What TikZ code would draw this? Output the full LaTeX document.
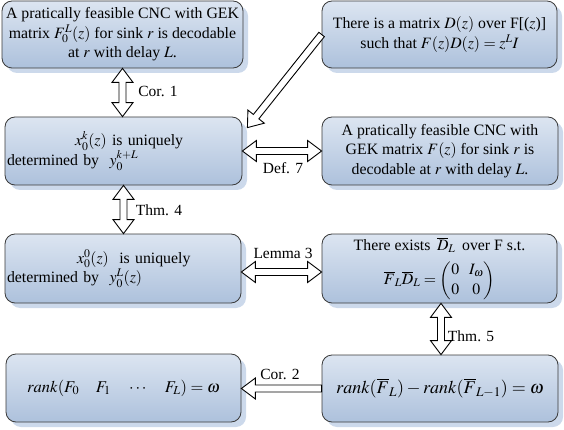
\documentclass[tikz,border=0pt]{standalone}
\usepackage{amsmath}
\usepackage{mathptmx}
\usepackage{fontspec}
\setmainfont{Liberation Serif}
\usetikzlibrary{calc,shadows}
\definecolor{boxtop}{HTML}{DCE5F1}
\definecolor{boxbot}{HTML}{ADC1DC}
\definecolor{shadowc}{HTML}{CCD9EB}
\definecolor{edgec}{HTML}{3A3A3A}
\newcommand\hollowsingle[2]{%
 \path (#1) coordinate (hs) (#2) coordinate (he);
 \path ($(he)!14pt!(hs)$) coordinate (hb);
 \draw[harrow] ($(hs)!3.5pt!90:(he)$) -- ($(hb)!3.5pt!90:(he)$) -- ($(hb)!10.5pt!90:(he)$) -- (he)
   -- ($(hb)!10.5pt!-90:(he)$) -- ($(hb)!3.5pt!-90:(he)$) -- ($(hs)!3.5pt!-90:(he)$) -- cycle;}
\newcommand\hollowdouble[2]{%
 \path (#1) coordinate (hs) (#2) coordinate (he);
 \path ($(hs)!14pt!(he)$) coordinate (hba) ($(he)!14pt!(hs)$) coordinate (hbb);
 \draw[harrow] ($(hba)!3.5pt!90:(he)$) -- ($(hbb)!3.5pt!90:(he)$) -- ($(hbb)!10.5pt!90:(he)$) -- (he)
   -- ($(hbb)!10.5pt!-90:(he)$) -- ($(hbb)!3.5pt!-90:(he)$) -- ($(hba)!3.5pt!-90:(he)$)
   -- ($(hba)!10.5pt!-90:(he)$) -- (hs) -- ($(hba)!10.5pt!90:(he)$) -- cycle;}
\begin{document}
\begin{tikzpicture}[x=1pt,y=-1pt,
  box/.style={draw=edgec, line width=0.8pt, rounded corners=10pt, top color=boxtop, bottom color=boxbot,
    drop shadow={shadow xshift=5pt, shadow yshift=-5pt, fill=shadowc, opacity=1},
    inner sep=2pt, align=center, font=\fontsize{15.8}{19.5}\selectfont},
  harrow/.style={draw=black, line width=0.9pt, fill=white, line join=miter},
  lbl/.style={font=\fontsize{15.5}{18}\selectfont, inner sep=1pt}]
\useasboundingbox (0,0) rectangle (564,430);
\node[box, minimum width=241pt, minimum height=67pt] (A) at (122.5,34.5)
  {A pratically feasible CNC with GEK\\ matrix $F_0^L(z)$ for sink $r$ is decodable\\ at $r$ with delay $L$.};
\node[box, minimum width=235pt, minimum height=67pt] (B) at (439.5,34.5)
  {There is a matrix $D(z)$ over F[($z$)]\\ such that $F(z)D(z)=z^LI$};
\node[box, minimum width=237pt, minimum height=68pt, align=left, text width=233pt] (C) at (123.5,151)
  {\hspace*{68pt}$x_0^k(z)$ is uniquely\\determined by\ \ $y_0^{k+L}$};
\node[box, minimum width=236pt, minimum height=68pt] (D) at (440,151)
  {A pratically feasible CNC with\\ GEK matrix $F(z)$ for sink $r$ is\\ decodable at $r$ with delay $L$.};
\node[box, minimum width=236pt, minimum height=69pt, align=left, text width=232pt] (E) at (123,268.5)
  {\hspace*{70pt}$x_0^0(z)$\ \ is uniquely\\determined by\ \ $y_0^L(z)$};
\node[box, minimum width=235pt, minimum height=69pt] (F) at (439.5,268.5)
  {There exists\ \,$\overline{D}_L$\ \,over F s.t.\\[7pt] $\overline{F}_L\overline{D}_L=\begin{pmatrix}0 & I_\omega\\ 0 & 0\end{pmatrix}$};
\node[box, minimum width=235pt, minimum height=68pt, font=\fontsize{16.5}{19.5}\selectfont] (G) at (123.5,388)
  {$rank(F_0\quad F_1\quad \cdots\quad F_L)=\omega$};
\node[box, minimum width=236pt, minimum height=67pt, font=\fontsize{18}{21}\selectfont] (H) at (440,388.5)
  {$rank(\overline{F}_L)-rank(\overline{F}_{L-1})=\omega$};
\hollowdouble{A.south}{A.south |- C.north}
\hollowdouble{C.south}{C.south |- E.north}
\hollowdouble{C.east}{C.east -| D.west}
\hollowdouble{$(E.east)+(0,3.5)$}{$(E.east -| F.west)+(0,3.5)$}
\hollowdouble{$(F.south)+(1.5,0)$}{$(F.south |- H.north)+(1.5,0)$}
\hollowsingle{H.west}{H.west -| G.east}
\hollowsingle{B.west}{$(C.north east)+(5,11)$}
\node[lbl] (l1) at (158,91) {Cor. 1};
\node[lbl] (l2) at (159,210) {Thm. 4};
\node[lbl] (l3) at (283,168) {Def. 7};
\node[lbl] (l4) at (283,253) {Lemma 3};
\node[lbl] (l5) at (471,336) {Thm. 5};
\node[lbl] (l6) at (280,374) {Cor. 2};
\end{tikzpicture}
\end{document}
